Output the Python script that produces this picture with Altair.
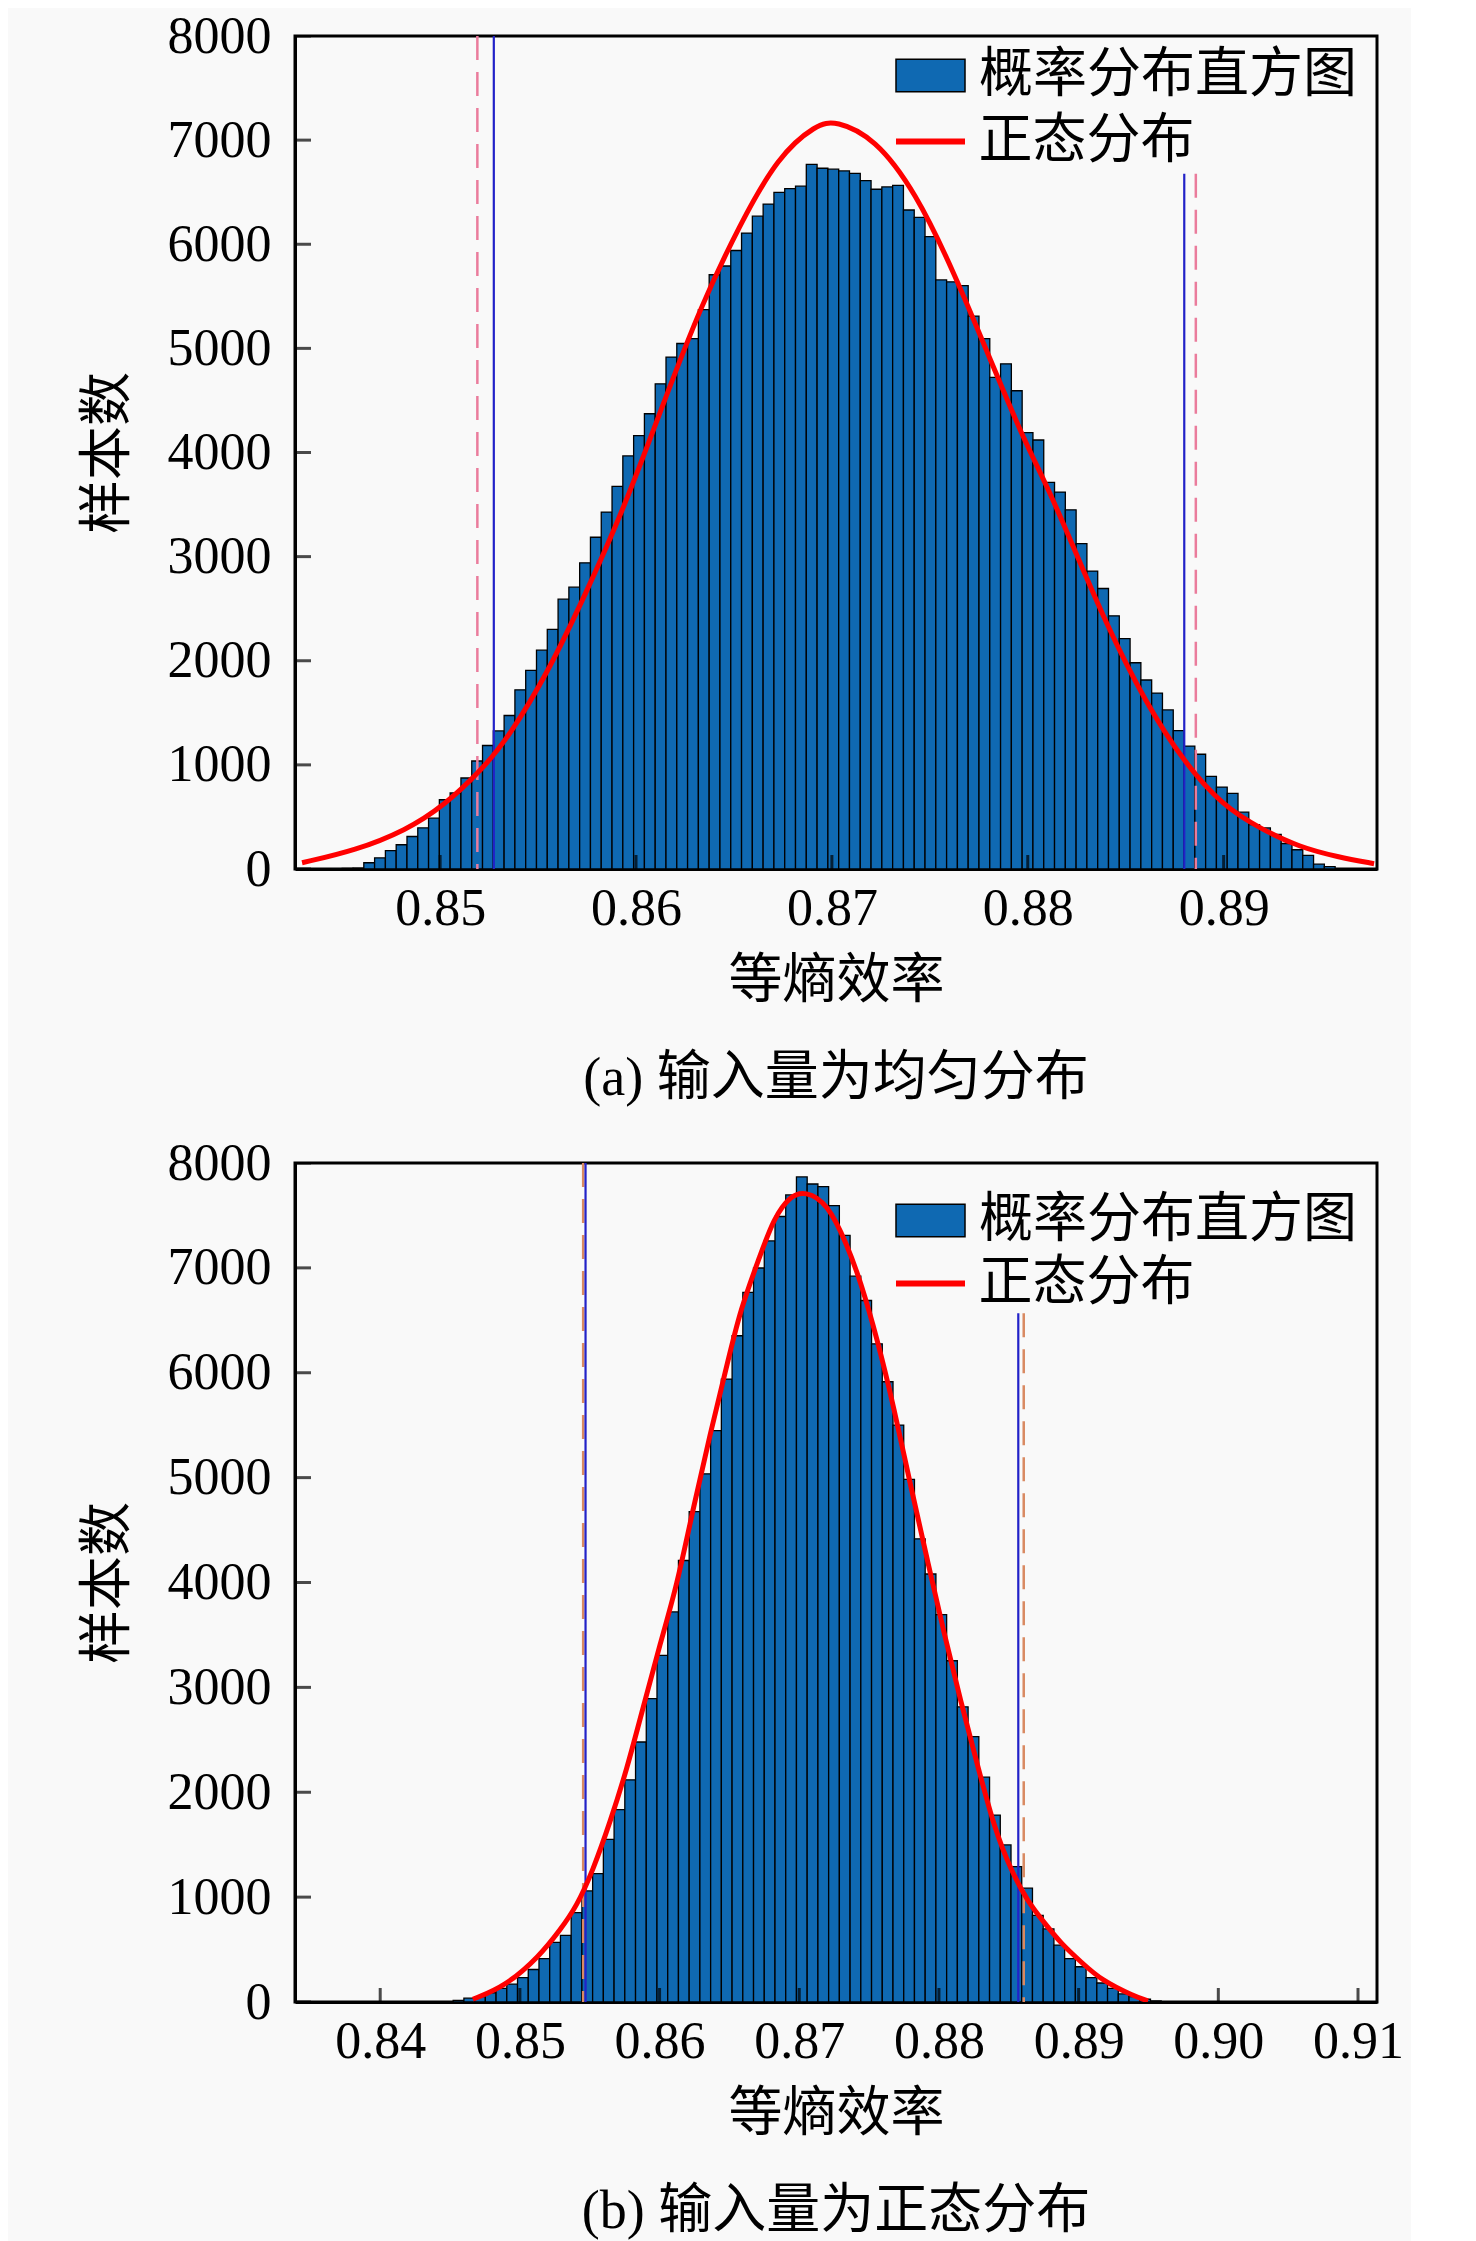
import altair as alt
import pandas as pd

# ---------------- data ----------------
Y_TICKS = [0, 1000, 2000, 3000, 4000, 5000, 6000, 7000, 8000]

# (a) uniform inputs
TOP_X_DOMAIN = [0.84259, 0.89783]
TOP_X_TICKS = [0.85, 0.86, 0.87, 0.88, 0.89]
TOP_BIN_START = 0.84445
TOP_BIN_WIDTH = 0.000551
TOP_COUNTS = [
    2, 5,
    9, 60, 107, 177, 233, 312, 395, 488, 665, 730,
    874, 1037, 1186, 1326, 1474, 1721, 1907, 2102, 2302, 2591,
    2707, 2940, 3186, 3428, 3674, 3967, 4163, 4372, 4660, 4916,
    5047, 5093, 5372, 5707, 5791, 5940, 6107, 6270, 6386, 6498,
    6535, 6558, 6767, 6730, 6721,
    6704, 6681, 6611, 6528, 6551, 6565, 6329, 6259, 6074, 5657,
    5639, 5602, 5310, 5093, 4722, 4852, 4593, 4190, 4120, 3713,
    3620, 3449, 3125, 2861, 2694, 2431, 2213, 1981, 1815, 1690,
    1528, 1329, 1181, 1102, 889, 787, 727, 546, 426, 394,
    333, 245, 185, 130, 46, 23,
]
TOP_CURVE_X = [0.84295, 0.84569, 0.84824, 0.85020, 0.85216, 0.85353, 0.85549,
               0.85744, 0.85941, 0.86137, 0.86333, 0.86528, 0.86725, 0.86921,
               0.87019, 0.87220, 0.87428, 0.87623, 0.87820, 0.87976, 0.88094,
               0.88212, 0.88406, 0.88603, 0.88799, 0.88995, 0.89190, 0.89387,
               0.89583, 0.89768]
TOP_CURVE_Y = [60, 179, 370, 608, 958, 1277, 1882, 2646, 3474, 4460, 5416, 6180,
               6848, 7151, 7189, 7020, 6498, 5734, 4842, 4140, 3696, 3187, 2327,
               1595, 1022, 608, 385, 210, 115, 51]
TOP_BLUE_LINES = [0.85274, 0.88799]
TOP_DASH_LINES = [0.85190, 0.88858]
TOP_LINE_TOPS = [8000, 6676]      # right-hand lines stop under the legend

# (b) normal inputs
BOT_X_DOMAIN = [0.83390, 0.91136]
BOT_X_TICKS = [0.84, 0.85, 0.86, 0.87, 0.88, 0.89, 0.90, 0.91]
BOT_BIN_START = 0.845223
BOT_BIN_WIDTH = 0.000768
BOT_COUNTS = [
    15, 36, 52, 88, 129, 170, 232, 310, 413, 568, 635, 852, 1059, 1224,
    1550, 1834, 2118, 2479, 2893, 3306, 3719, 4210, 4675, 5036, 5449,
    5940, 6353, 6767, 6999, 7257, 7490, 7696, 7867,
    7800, 7774, 7593, 7309, 6921, 6689, 6276, 5914, 5501, 4984, 4416,
    4081, 3693, 3254, 2815, 2531, 2144, 1782, 1498, 1291, 1085, 826,
    697, 542, 413, 336, 232, 181, 129, 77, 52, 26, 10,
]
BOT_CURVE_X = [0.84663, 0.84902, 0.85141, 0.85285, 0.85405, 0.85524, 0.85644,
               0.85764, 0.85883, 0.86003, 0.86123, 0.86242, 0.86362, 0.86482,
               0.86577, 0.86721, 0.86816, 0.86936, 0.87044, 0.87200, 0.87343,
               0.87439, 0.87559, 0.87678, 0.87798, 0.87917, 0.88037, 0.88157,
               0.88276, 0.88396, 0.88515, 0.88635, 0.88754, 0.88874, 0.89018,
               0.89162, 0.89401, 0.89497]
BOT_CURVE_Y = [26, 155, 439, 682, 908, 1258, 1709, 2210, 2812, 3413, 3964, 4715,
               5417, 6068, 6600, 7121, 7470, 7690, 7731, 7622, 7220, 6869, 6318,
               5667, 4915, 4214, 3513, 2861, 2259, 1659, 1258, 957, 757, 557,
               381, 207, 52, 10]
BOT_BLUE_LINES = [0.85470, 0.88568]
BOT_DASH_LINES = [0.85453, 0.88607]
BOT_LINE_TOPS = [8000, 6568]

HIST_LABEL = "概率分布直方图"
CURVE_LABEL = "正态分布"
X_TITLE = "等熵效率"
Y_TITLE = "样本数"
CAPTION_A = "(a) 输入量为均匀分布"
CAPTION_B = "(b) 输入量为正态分布"

# ---------------- styling ----------------
FONT_NUM = "Liberation Serif"
FONT_CJK = "Liberation Serif, Noto Sans CJK SC"
BG = "#f9f9f9"
BAR_FILL = "#0F69B2"
CURVE_RED = "#FF0000"
BLUE_LINE = "#2222C8"
PLOT_W = 1082


def panel(counts, start, width, cx, cy, blue, dash, line_tops, dash_color,
          xdomain, xticks, caption, leg_y1, leg_y2, plot_h):
    bars = pd.DataFrame({"count": counts})
    bars["x0"] = [start + i * width for i in range(len(counts))]
    bars["x1"] = bars["x0"] + width
    bars["zero"] = 0
    bars["series"] = HIST_LABEL

    curve = pd.DataFrame({"x": cx, "y": cy, "series": CURVE_LABEL})
    blue_df = pd.DataFrame({"v": blue, "top": line_tops, "zero": 0})
    dash_df = pd.DataFrame({"v": dash, "top": line_tops, "zero": 0})
    ytick_df = pd.DataFrame({"t": Y_TICKS})
    xtick_df = pd.DataFrame({"t": xticks})

    x_scale = alt.Scale(domain=xdomain, nice=False, zero=False)
    y_scale = alt.Scale(domain=[0, 8000], nice=False)
    x_axis = alt.Axis(values=xticks, format=".2f", title=X_TITLE, grid=False,
                      ticks=False, labelPadding=14, titlePadding=20)
    y_axis = alt.Axis(values=Y_TICKS, format="d", title=Y_TITLE, grid=False,
                      ticks=False, labelPadding=24, titlePadding=32)

    bar_layer = alt.Chart(bars).mark_rect(stroke="black", strokeWidth=1.3).encode(
        x=alt.X("x0:Q", scale=x_scale, axis=x_axis),
        x2="x1:Q",
        y=alt.Y("count:Q", scale=y_scale, axis=y_axis),
        y2="zero:Q",
        fill=alt.Fill("series:N", scale=alt.Scale(range=[BAR_FILL]),
                      legend=alt.Legend(
                          title=None, orient="none", legendX=600, legendY=leg_y1,
                          symbolType="M-1,-0.47L1,-0.47L1,0.47L-1,0.47Z",
                          symbolSize=4761, symbolStrokeColor="black",
                          symbolStrokeWidth=1.5, labelFont=FONT_CJK,
                          labelFontSize=54, labelOffset=13, labelLimit=800,
                          padding=0, labelColor="black")),
    )
    dash_layer = alt.Chart(dash_df).mark_rule(
        color=dash_color, strokeWidth=2.5, strokeDash=[24, 12]).encode(
        x=alt.X("v:Q", scale=x_scale),
        y=alt.Y("top:Q", scale=y_scale),
        y2="zero:Q")
    blue_layer = alt.Chart(blue_df).mark_rule(
        color=BLUE_LINE, strokeWidth=2.2).encode(
        x=alt.X("v:Q", scale=x_scale),
        y=alt.Y("top:Q", scale=y_scale),
        y2="zero:Q")
    line_layer = alt.Chart(curve).mark_line(
        strokeWidth=5, interpolate="basis", clip=True).encode(
        x=alt.X("x:Q", scale=x_scale),
        y=alt.Y("y:Q", scale=y_scale),
        stroke=alt.Stroke("series:N", scale=alt.Scale(range=[CURVE_RED]),
                          legend=alt.Legend(
                              title=None, orient="none", legendX=598,
                              legendY=leg_y2, symbolType="stroke",
                              symbolSize=4761, symbolStrokeWidth=6,
                              labelFont=FONT_CJK, labelFontSize=54,
                              labelOffset=10.5, labelLimit=800, padding=0,
                              labelColor="black")),
    )
    # inward tick marks: centred on the axis line, the outer half is clipped away
    ytick_layer = alt.Chart(ytick_df).mark_tick(
        orient="horizontal", size=32, thickness=3, color="black", clip=True).encode(
        x=alt.XDatum(xdomain[0], type="quantitative", scale=x_scale),
        y=alt.Y("t:Q", scale=y_scale))
    xtick_layer = alt.Chart(xtick_df).mark_tick(
        orient="vertical", size=28, thickness=3, color="black", clip=True).encode(
        x=alt.X("t:Q", scale=x_scale),
        y=alt.YDatum(0, type="quantitative", scale=y_scale))

    return alt.layer(bar_layer, dash_layer, blue_layer, line_layer,
                     ytick_layer, xtick_layer).resolve_legend(
        fill="independent", stroke="independent"
    ).properties(
        width=PLOT_W, height=plot_h,
        title=alt.TitleParams(caption, orient="bottom", font=FONT_CJK,
                              fontSize=54, fontWeight="normal", color="black",
                              offset=44, anchor="middle"),
    )


top = panel(TOP_COUNTS, TOP_BIN_START, TOP_BIN_WIDTH, TOP_CURVE_X, TOP_CURVE_Y,
            TOP_BLUE_LINES, TOP_DASH_LINES, TOP_LINE_TOPS, "#EA7C9C",
            TOP_X_DOMAIN, TOP_X_TICKS, CAPTION_A, 4, 68, 833)
bottom = panel(BOT_COUNTS, BOT_BIN_START, BOT_BIN_WIDTH, BOT_CURVE_X, BOT_CURVE_Y,
               BOT_BLUE_LINES, BOT_DASH_LINES, BOT_LINE_TOPS, "#D98A62",
               BOT_X_DOMAIN, BOT_X_TICKS, CAPTION_B, 22, 83, 839)

chart = alt.vconcat(top, bottom, spacing=27).properties(
    background=BG,
    padding={"left": 71, "top": 0, "right": 5, "bottom": 5},
).configure_view(
    stroke="black", strokeWidth=3, fill=BG
).configure_axis(
    domainColor="black", domainWidth=3, labelFont=FONT_NUM, labelFontSize=52,
    labelColor="black", titleFont=FONT_CJK, titleFontSize=54,
    titleFontWeight="normal", titleColor="black",
)

chart.save("out.html", embed_options={"renderer": "svg", "actions": False})
